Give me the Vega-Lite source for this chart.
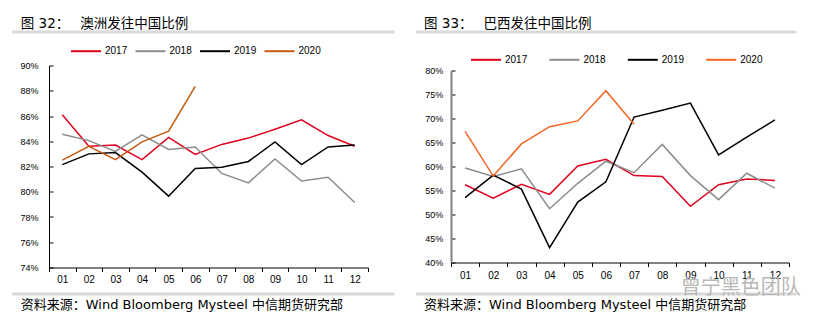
{
  "$schema": "https://vega.github.io/schema/vega-lite/v6.json",
  "padding": {"left": 10, "top": 16.5, "right": 0, "bottom": 0},
  "background": "white",
  "config": {"view": {"stroke": null}},
  "title": {"text": "曾宁黑色团队", "orient": "bottom", "anchor": "start", "fontSize": 20, "color": "#b8b8b8", "font": "Noto Sans CJK SC", "fontWeight": "normal", "offset": 0, "dy": -34, "dx": 670},
  "resolve": {"scale": {"color": "independent"}, "legend": {"color": "independent"}},
  "datasets": {
    "aus": [
      {"m": "01", "year": "2017", "v": 0.861}, {"m": "02", "year": "2017", "v": 0.836}, {"m": "03", "year": "2017", "v": 0.837}, {"m": "04", "year": "2017", "v": 0.8255}, {"m": "05", "year": "2017", "v": 0.843}, {"m": "06", "year": "2017", "v": 0.8295}, {"m": "07", "year": "2017", "v": 0.8375}, {"m": "08", "year": "2017", "v": 0.8425}, {"m": "09", "year": "2017", "v": 0.8495}, {"m": "10", "year": "2017", "v": 0.857}, {"m": "11", "year": "2017", "v": 0.8445}, {"m": "12", "year": "2017", "v": 0.836},
      {"m": "01", "year": "2018", "v": 0.8455}, {"m": "02", "year": "2018", "v": 0.8405}, {"m": "03", "year": "2018", "v": 0.832}, {"m": "04", "year": "2018", "v": 0.845}, {"m": "05", "year": "2018", "v": 0.8335}, {"m": "06", "year": "2018", "v": 0.8355}, {"m": "07", "year": "2018", "v": 0.8145}, {"m": "08", "year": "2018", "v": 0.807}, {"m": "09", "year": "2018", "v": 0.826}, {"m": "10", "year": "2018", "v": 0.8085}, {"m": "11", "year": "2018", "v": 0.8115}, {"m": "12", "year": "2018", "v": 0.7915},
      {"m": "01", "year": "2019", "v": 0.8215}, {"m": "02", "year": "2019", "v": 0.83}, {"m": "03", "year": "2019", "v": 0.831}, {"m": "04", "year": "2019", "v": 0.8155}, {"m": "05", "year": "2019", "v": 0.7965}, {"m": "06", "year": "2019", "v": 0.8185}, {"m": "07", "year": "2019", "v": 0.8195}, {"m": "08", "year": "2019", "v": 0.824}, {"m": "09", "year": "2019", "v": 0.8395}, {"m": "10", "year": "2019", "v": 0.8215}, {"m": "11", "year": "2019", "v": 0.8355}, {"m": "12", "year": "2019", "v": 0.837},
      {"m": "01", "year": "2020", "v": 0.825}, {"m": "02", "year": "2020", "v": 0.836}, {"m": "03", "year": "2020", "v": 0.8255}, {"m": "04", "year": "2020", "v": 0.8395}, {"m": "05", "year": "2020", "v": 0.848}, {"m": "06", "year": "2020", "v": 0.8835}
    ],
    "bra": [
      {"m": "01", "year": "2017", "v": 0.562}, {"m": "02", "year": "2017", "v": 0.534}, {"m": "03", "year": "2017", "v": 0.563}, {"m": "04", "year": "2017", "v": 0.542}, {"m": "05", "year": "2017", "v": 0.601}, {"m": "06", "year": "2017", "v": 0.615}, {"m": "07", "year": "2017", "v": 0.581}, {"m": "08", "year": "2017", "v": 0.579}, {"m": "09", "year": "2017", "v": 0.517}, {"m": "10", "year": "2017", "v": 0.562}, {"m": "11", "year": "2017", "v": 0.574}, {"m": "12", "year": "2017", "v": 0.571},
      {"m": "01", "year": "2018", "v": 0.597}, {"m": "02", "year": "2018", "v": 0.579}, {"m": "03", "year": "2018", "v": 0.595}, {"m": "04", "year": "2018", "v": 0.512}, {"m": "05", "year": "2018", "v": 0.565}, {"m": "06", "year": "2018", "v": 0.611}, {"m": "07", "year": "2018", "v": 0.587}, {"m": "08", "year": "2018", "v": 0.646}, {"m": "09", "year": "2018", "v": 0.581}, {"m": "10", "year": "2018", "v": 0.531}, {"m": "11", "year": "2018", "v": 0.586}, {"m": "12", "year": "2018", "v": 0.555},
      {"m": "01", "year": "2019", "v": 0.535}, {"m": "02", "year": "2019", "v": 0.582}, {"m": "03", "year": "2019", "v": 0.553}, {"m": "04", "year": "2019", "v": 0.431}, {"m": "05", "year": "2019", "v": 0.526}, {"m": "06", "year": "2019", "v": 0.568}, {"m": "07", "year": "2019", "v": 0.703}, {"m": "08", "year": "2019", "v": 0.717}, {"m": "09", "year": "2019", "v": 0.732}, {"m": "10", "year": "2019", "v": 0.624}, {"m": "11", "year": "2019", "v": 0.661}, {"m": "12", "year": "2019", "v": 0.697},
      {"m": "01", "year": "2020", "v": 0.673}, {"m": "02", "year": "2020", "v": 0.58}, {"m": "03", "year": "2020", "v": 0.647}, {"m": "04", "year": "2020", "v": 0.683}, {"m": "05", "year": "2020", "v": 0.695}, {"m": "06", "year": "2020", "v": 0.758}, {"m": "07", "year": "2020", "v": 0.688}
    ],
    "bar": [{"k": 0.5}]
  },
  "spacing": 18,
  "hconcat": [
    {
      "spacing": 0,
      "resolve": {"scale": {"color": "independent", "x": "independent", "y": "independent"}, "legend": {"color": "independent"}},
      "vconcat": [
        {
          "width": 382, "height": 2.5,
          "title": {"text": "图 32：\u3000    澳洲发往中国比例", "anchor": "start", "dx": 10, "offset": 0, "fontSize": 13.5, "font": "DejaVu Sans, Noto Sans CJK SC", "fontWeight": "normal", "color": "#000"},
          "data": {"name": "bar"},
          "layer": [
            {"mark": {"type": "rule", "color": "#d9d9d9", "strokeWidth": 2.5}, "encoding": {"y": {"field": "k", "type": "quantitative", "scale": {"domain": [0, 1]}, "axis": null}}},
            {"mark": {"type": "text", "text": "", "fontSize": 0}, "encoding": {"x": {"field": "k", "type": "quantitative", "scale": {"domain": [0, 1]}, "axis": {"orient": "bottom", "offset": -1.25, "domainColor": "#d9d9d9", "domainWidth": 2.5, "ticks": false, "labels": false, "title": null, "grid": false}}}}
          ]
        },
        {
          "width": 356, "height": 202,
          "data": {"name": "aus"},
          "mark": {"type": "line", "strokeWidth": 1.5},
          "encoding": {
            "x": {"field": "m", "type": "ordinal", "bandPosition": 0.5,
              "scale": {"type": "band", "paddingInner": 0, "paddingOuter": 0, "range": [37, 356]},
              "axis": {"title": " ", "titleX": 200, "titleY": 24.3, "titleBaseline": "bottom", "titleFontSize": 1, "domainColor": "#000", "tickColor": "#000", "tickSize": 4, "tickBand": "extent", "labelPadding": 3, "labelFontSize": 10, "labelFont": "Liberation Sans", "labelColor": "#000", "labelAngle": 0, "grid": false}},
            "y": {"field": "v", "type": "quantitative",
              "scale": {"domain": [0.74, 0.9], "zero": false, "nice": false},
              "axis": {"title": null, "offset": -37, "values": [0.74, 0.76, 0.78, 0.8, 0.82, 0.84, 0.86, 0.88, 0.9], "format": ".0%", "domainColor": "#000", "tickColor": "#000", "tickSize": -4, "labelPadding": 15, "labelFontSize": 9, "labelFont": "Liberation Sans", "labelColor": "#000", "grid": false}},
            "color": {"field": "year", "type": "nominal",
              "scale": {"domain": ["2017", "2018", "2019", "2020"], "range": ["#e0001b", "#8c8c8c", "#000000", "#c55a11"]},
              "legend": {"orient": "none", "legendX": 56.8, "legendY": -31.5, "direction": "horizontal", "title": null, "symbolType": "stroke", "symbolSize": 900, "symbolStrokeWidth": 2, "labelFontSize": 10, "labelFont": "Liberation Sans", "labelColor": "#000", "labelOffset": 3, "columnPadding": 3.5, "padding": 1.2}}
          }
        },
        {
          "width": 382, "height": 2.5,
          "title": {"text": "资料来源：Wind Bloomberg Mysteel 中信期货研究部", "orient": "bottom", "anchor": "start", "dx": 10, "offset": 4, "fontSize": 13, "font": "DejaVu Sans, Noto Sans CJK SC", "fontWeight": "normal", "color": "#000"},
          "data": {"name": "bar"},
          "layer": [
            {"mark": {"type": "rule", "color": "#d9d9d9", "strokeWidth": 2.5}, "encoding": {"y": {"field": "k", "type": "quantitative", "scale": {"domain": [0, 1]}, "axis": null}}},
            {"mark": {"type": "text", "text": "", "fontSize": 0}, "encoding": {"x": {"field": "k", "type": "quantitative", "scale": {"domain": [0, 1]}, "axis": {"orient": "bottom", "offset": -1.25, "domainColor": "#d9d9d9", "domainWidth": 2.5, "ticks": false, "labels": false, "title": null, "grid": false}}}}
          ]
        }
      ]
    },
    {
      "spacing": 0,
      "resolve": {"scale": {"color": "independent", "x": "independent", "y": "independent"}, "legend": {"color": "independent"}},
      "vconcat": [
        {
          "width": 380, "height": 2.5,
          "title": {"text": "图 33：\u3000    巴西发往中国比例", "anchor": "start", "dx": 9.3, "offset": 0, "fontSize": 13.5, "font": "DejaVu Sans, Noto Sans CJK SC", "fontWeight": "normal", "color": "#000"},
          "data": {"name": "bar"},
          "layer": [
            {"mark": {"type": "rule", "color": "#d9d9d9", "strokeWidth": 2.5}, "encoding": {"y": {"field": "k", "type": "quantitative", "scale": {"domain": [0, 1]}, "axis": null}}},
            {"mark": {"type": "text", "text": "", "fontSize": 0}, "encoding": {"x": {"field": "k", "type": "quantitative", "scale": {"domain": [0, 1]}, "axis": {"orient": "bottom", "offset": -1.25, "domainColor": "#d9d9d9", "domainWidth": 2.5, "ticks": false, "labels": false, "title": null, "grid": false}}}}
          ]
        },
        {
          "width": 373, "height": 192,
          "data": {"name": "bra"},
          "mark": {"type": "line", "strokeWidth": 1.5},
          "encoding": {
            "x": {"field": "m", "type": "ordinal", "bandPosition": 0.5,
              "scale": {"type": "band", "paddingInner": 0, "paddingOuter": 0, "range": [35, 373]},
              "axis": {"title": " ", "titleX": 200, "titleY": 29.6, "titleBaseline": "bottom", "titleFontSize": 1, "domainColor": "#000", "tickColor": "#000", "tickSize": 4, "tickBand": "extent", "labelPadding": 4, "labelFontSize": 10, "labelFont": "Liberation Sans", "labelColor": "#000", "labelAngle": 0, "grid": false}},
            "y": {"field": "v", "type": "quantitative",
              "scale": {"domain": [0.4, 0.8], "zero": false, "nice": false},
              "axis": {"title": null, "offset": -35, "values": [0.4, 0.45, 0.5, 0.55, 0.6, 0.65, 0.7, 0.75, 0.8], "format": ".0%", "domainColor": "#808080", "domainWidth": 2, "tickColor": "#000", "tickSize": -4, "labelPadding": 12.3, "labelFontSize": 9, "labelFont": "Liberation Sans", "labelColor": "#000", "grid": false}},
            "color": {"field": "year", "type": "nominal",
              "scale": {"domain": ["2017", "2018", "2019", "2020"], "range": ["#e0001b", "#8c8c8c", "#000000", "#f26522"]},
              "legend": {"orient": "none", "legendX": 44.5, "legendY": -36.2, "direction": "horizontal", "title": null, "symbolType": "stroke", "symbolSize": 900, "symbolStrokeWidth": 2, "labelFontSize": 10, "labelFont": "Liberation Sans", "labelColor": "#000", "labelOffset": 3, "columnPadding": 17.4, "padding": 9.5}}
          }
        },
        {
          "width": 380, "height": 2.5,
          "title": {"text": "资料来源：Wind Bloomberg Mysteel 中信期货研究部", "orient": "bottom", "anchor": "start", "dx": 9.3, "offset": 4, "fontSize": 13, "font": "DejaVu Sans, Noto Sans CJK SC", "fontWeight": "normal", "color": "#000"},
          "data": {"name": "bar"},
          "layer": [
            {"mark": {"type": "rule", "color": "#d9d9d9", "strokeWidth": 2.5}, "encoding": {"y": {"field": "k", "type": "quantitative", "scale": {"domain": [0, 1]}, "axis": null}}},
            {"mark": {"type": "text", "text": "", "fontSize": 0}, "encoding": {"x": {"field": "k", "type": "quantitative", "scale": {"domain": [0, 1]}, "axis": {"orient": "bottom", "offset": -1.25, "domainColor": "#d9d9d9", "domainWidth": 2.5, "ticks": false, "labels": false, "title": null, "grid": false}}}}
          ]
        }
      ]
    }
  ]
}
